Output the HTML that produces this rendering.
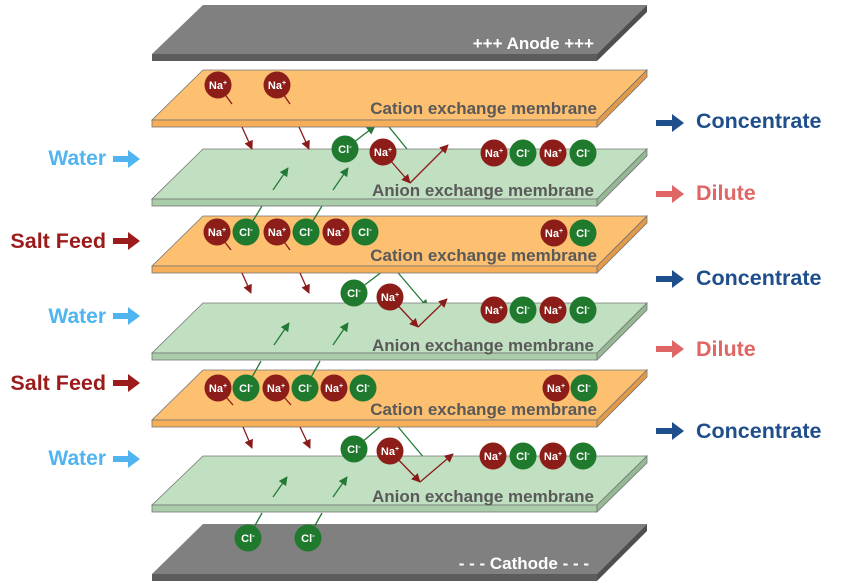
<!DOCTYPE html>
<html><head><meta charset="utf-8"><style>
html,body{margin:0;padding:0;background:#fff;}
svg{display:block;}
text{font-family:"Liberation Sans",Arial,sans-serif;font-weight:bold;}
</style></head><body>
<svg width="844" height="587" viewBox="0 0 844 587" xmlns="http://www.w3.org/2000/svg">
<defs>
<marker id="mr" viewBox="0 0 10 10" refX="9" refY="5" markerWidth="9" markerHeight="9" markerUnits="userSpaceOnUse" orient="auto"><path d="M0,0 L10,5 L0,10 z" fill="#8B1A1A"/></marker>
<marker id="mg" viewBox="0 0 10 10" refX="9" refY="5" markerWidth="9" markerHeight="9" markerUnits="userSpaceOnUse" orient="auto"><path d="M0,0 L10,5 L0,10 z" fill="#237A36"/></marker>
<g id="na"><circle r="13.5" fill="#8C1D18"/><text y="4" text-anchor="middle" font-size="11" fill="#fff">Na<tspan font-size="7" dy="-4">+</tspan></text></g>
<g id="cl"><circle r="13.5" fill="#1F7A2E"/><text y="4" text-anchor="middle" font-size="11" fill="#fff">Cl<tspan font-size="8" dy="-4">-</tspan></text></g>
</defs>

<!-- green up-lines into cation bottoms (drawn before plates) -->
<g stroke="#237A36" stroke-width="1.3" fill="none">
<line x1="345" y1="149" x2="375" y2="126" marker-end="url(#mg)"/>
<line x1="354" y1="293" x2="383" y2="271"/>
<line x1="354" y1="449" x2="382" y2="425"/>
<line x1="385" y1="122" x2="420" y2="165" marker-end="url(#mg)"/>
<line x1="394" y1="268" x2="428" y2="308" marker-end="url(#mg)"/>
<line x1="394" y1="422" x2="430" y2="465" marker-end="url(#mg)"/>
</g>

<!-- plates -->
<g stroke="#777" stroke-width="0.8">
<!-- anode -->
<polygon points="203,5 647,5 597,54 152,54" fill="#808080" stroke="none"/>
<rect x="152" y="54" width="445" height="7" fill="#5c5c5c" stroke="none"/>
<polygon points="647,5 647,12 597,61 597,54" fill="#4f4f4f" stroke="none"/>
<!-- cation1 -->
<polygon points="203,70 647,70 597,120 152,120" fill="#FDBF70"/>
<rect x="152" y="120" width="445" height="7" fill="#F7AE58"/>
<polygon points="647,70 647,77 597,127 597,120" fill="#E39A48"/>
<!-- green1 -->
<polygon points="203,149 647,149 597,199 152,199" fill="#C1E0C1"/>
<rect x="152" y="199" width="445" height="7" fill="#A9CDA9"/>
<polygon points="647,149 647,156 597,206 597,199" fill="#95B895"/>
<!-- cation2 -->
<polygon points="203,216 647,216 597,266 152,266" fill="#FDBF70"/>
<rect x="152" y="266" width="445" height="7" fill="#F7AE58"/>
<polygon points="647,216 647,223 597,273 597,266" fill="#E39A48"/>
<!-- green2 -->
<polygon points="203,303 647,303 597,353 152,353" fill="#C1E0C1"/>
<rect x="152" y="353" width="445" height="7" fill="#A9CDA9"/>
<polygon points="647,303 647,310 597,360 597,353" fill="#95B895"/>
<!-- cation3 -->
<polygon points="203,370 647,370 597,420 152,420" fill="#FDBF70"/>
<rect x="152" y="420" width="445" height="7" fill="#F7AE58"/>
<polygon points="647,370 647,377 597,427 597,420" fill="#E39A48"/>
<!-- green3 -->
<polygon points="203,456 647,456 597,505 152,505" fill="#C1E0C1"/>
<rect x="152" y="505" width="445" height="7" fill="#A9CDA9"/>
<polygon points="647,456 647,463 597,512 597,505" fill="#95B895"/>
<!-- cathode -->
<polygon points="203,524 647,524 597,574 152,574" fill="#808080" stroke="none"/>
<rect x="152" y="574" width="445" height="7" fill="#5c5c5c" stroke="none"/>
<polygon points="647,524 647,531 597,581 597,574" fill="#4f4f4f" stroke="none"/>
</g>

<!-- plate labels -->
<g font-size="17">
<text x="594" y="49" text-anchor="end" fill="#fff">+++ Anode +++</text>
<text x="589" y="569" text-anchor="end" fill="#fff">- - - Cathode - - -</text>
<g fill="#595959" text-anchor="end">
<text x="597" y="114">Cation exchange membrane</text>
<text x="594" y="196">Anion exchange membrane</text>
<text x="597" y="261">Cation exchange membrane</text>
<text x="594" y="351">Anion exchange membrane</text>
<text x="597" y="415">Cation exchange membrane</text>
<text x="594" y="502">Anion exchange membrane</text>
</g>
</g>

<!-- red lines / arrows -->
<g stroke="#8B1A1A" stroke-width="1.3" fill="none">
<line x1="218" y1="85" x2="232" y2="104"/>
<line x1="277" y1="85" x2="290" y2="104"/>
<line x1="242" y1="127" x2="252" y2="149" marker-end="url(#mr)"/>
<line x1="299" y1="127" x2="309" y2="149" marker-end="url(#mr)"/>
<line x1="383" y1="152" x2="410" y2="183" marker-end="url(#mr)"/>
<line x1="410" y1="183" x2="448" y2="145" marker-end="url(#mr)"/>

<line x1="217" y1="232" x2="231" y2="250"/>
<line x1="277" y1="232" x2="290" y2="250"/>
<line x1="242" y1="273" x2="251" y2="293" marker-end="url(#mr)"/>
<line x1="300" y1="273" x2="309" y2="293" marker-end="url(#mr)"/>
<line x1="390" y1="297" x2="418" y2="327" marker-end="url(#mr)"/>
<line x1="418" y1="327" x2="447" y2="299" marker-end="url(#mr)"/>

<line x1="218" y1="388" x2="233" y2="405"/>
<line x1="276" y1="388" x2="291" y2="405"/>
<line x1="243" y1="427" x2="252" y2="448" marker-end="url(#mr)"/>
<line x1="300" y1="427" x2="310" y2="448" marker-end="url(#mr)"/>
<line x1="390" y1="451" x2="420" y2="482" marker-end="url(#mr)"/>
<line x1="420" y1="482" x2="453" y2="454" marker-end="url(#mr)"/>
</g>

<!-- green lines / arrows -->
<g stroke="#237A36" stroke-width="1.3" fill="none">
<line x1="273" y1="190" x2="288" y2="168" marker-end="url(#mg)"/>
<line x1="333" y1="190" x2="348" y2="168" marker-end="url(#mg)"/>
<line x1="246" y1="232" x2="262" y2="206"/>
<line x1="306" y1="232" x2="322" y2="206"/>
<line x1="274" y1="345" x2="289" y2="323" marker-end="url(#mg)"/>
<line x1="333" y1="345" x2="348" y2="323" marker-end="url(#mg)"/>
<line x1="246" y1="388" x2="261" y2="361"/>
<line x1="305" y1="388" x2="320" y2="361"/>
<line x1="273" y1="497" x2="287" y2="477" marker-end="url(#mg)"/>
<line x1="333" y1="497" x2="347" y2="477" marker-end="url(#mg)"/>
<line x1="248" y1="538" x2="262" y2="513"/>
<line x1="308" y1="538" x2="322" y2="513"/>
</g>

<!-- ions -->
<use href="#na" x="218" y="85"/><use href="#na" x="277" y="85"/>
<use href="#cl" x="345" y="149"/><use href="#na" x="383" y="152"/>
<use href="#na" x="494" y="153"/><use href="#cl" x="523" y="153"/><use href="#na" x="553" y="153"/><use href="#cl" x="583" y="153"/>

<use href="#na" x="217" y="232"/><use href="#cl" x="246" y="232"/><use href="#na" x="277" y="232"/><use href="#cl" x="306" y="232"/><use href="#na" x="336" y="232"/><use href="#cl" x="365" y="232"/>
<use href="#na" x="554" y="233"/><use href="#cl" x="583" y="233"/>
<use href="#cl" x="354" y="293"/><use href="#na" x="390" y="297"/>
<use href="#na" x="494" y="310"/><use href="#cl" x="523" y="310"/><use href="#na" x="553" y="310"/><use href="#cl" x="583" y="310"/>

<use href="#na" x="218" y="388"/><use href="#cl" x="246" y="388"/><use href="#na" x="276" y="388"/><use href="#cl" x="305" y="388"/><use href="#na" x="334" y="388"/><use href="#cl" x="363" y="388"/>
<use href="#na" x="556" y="388"/><use href="#cl" x="584" y="388"/>
<use href="#cl" x="354" y="449"/><use href="#na" x="390" y="451"/>
<use href="#na" x="493" y="456"/><use href="#cl" x="523" y="456"/><use href="#na" x="553" y="456"/><use href="#cl" x="583" y="456"/>
<use href="#cl" x="248" y="538"/><use href="#cl" x="308" y="538"/>

<!-- left labels -->
<g font-size="21">
<text x="106" y="165" text-anchor="end" fill="#4FB4F0">Water</text>
<text x="106" y="248" text-anchor="end" fill="#9C1C1C" font-size="21.5">Salt Feed</text>
<text x="106" y="323" text-anchor="end" fill="#4FB4F0">Water</text>
<text x="106" y="390" text-anchor="end" fill="#9C1C1C" font-size="21.5">Salt Feed</text>
<text x="106" y="465" text-anchor="end" fill="#4FB4F0">Water</text>
</g>
<g>
<path d="M113,156 h15 v-6 l12,9 l-12,9 v-6 h-15 z" fill="#4FB4F0"/>
<path d="M113,238 h15 v-6 l12,9 l-12,9 v-6 h-15 z" fill="#9C1C1C"/>
<path d="M113,313 h15 v-6 l12,9 l-12,9 v-6 h-15 z" fill="#4FB4F0"/>
<path d="M113,380 h15 v-6 l12,9 l-12,9 v-6 h-15 z" fill="#9C1C1C"/>
<path d="M113,456 h15 v-6 l12,9 l-12,9 v-6 h-15 z" fill="#4FB4F0"/>
</g>

<!-- right labels -->
<g font-size="21.5">
<text x="696" y="128" fill="#1F4E8C">Concentrate</text>
<text x="696" y="200" fill="#E06666">Dilute</text>
<text x="696" y="285" fill="#1F4E8C">Concentrate</text>
<text x="696" y="356" fill="#E06666">Dilute</text>
<text x="696" y="438" fill="#1F4E8C">Concentrate</text>
</g>
<g>
<path d="M656,120 h16 v-6 l12,9 l-12,9 v-6 h-16 z" fill="#1F4E8C"/>
<path d="M656,191 h16 v-6 l12,9 l-12,9 v-6 h-16 z" fill="#E06666"/>
<path d="M656,276 h16 v-6 l12,9 l-12,9 v-6 h-16 z" fill="#1F4E8C"/>
<path d="M656,346 h16 v-6 l12,9 l-12,9 v-6 h-16 z" fill="#E06666"/>
<path d="M656,428 h16 v-6 l12,9 l-12,9 v-6 h-16 z" fill="#1F4E8C"/>
</g>
</svg>
</body></html>
